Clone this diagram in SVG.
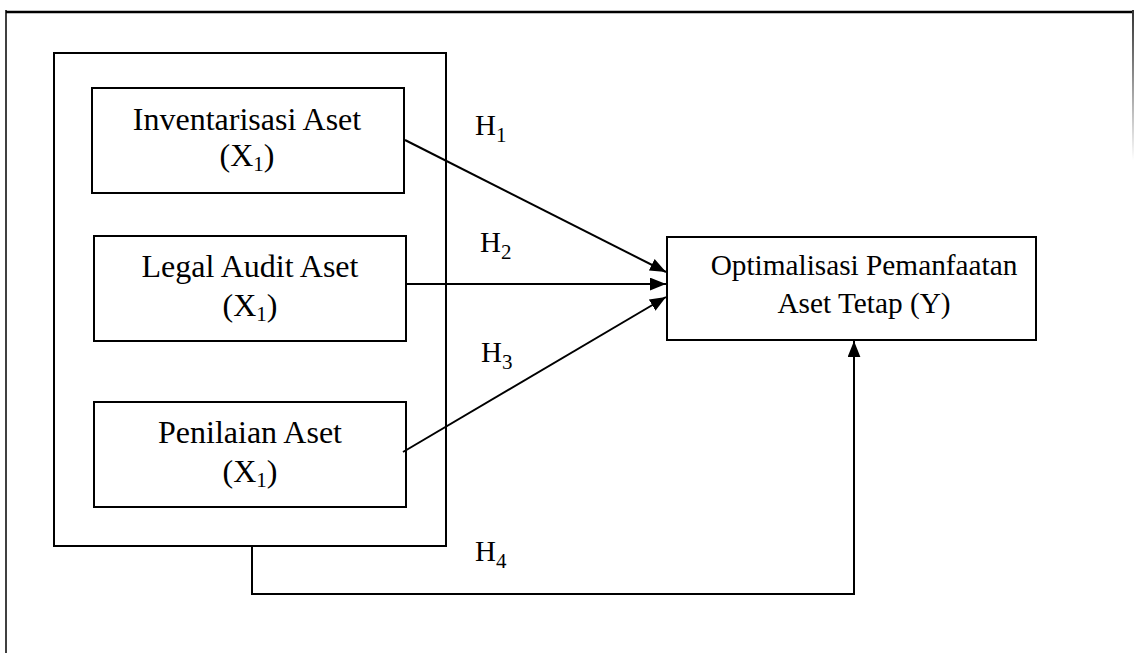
<svg xmlns="http://www.w3.org/2000/svg" width="1134" height="653" viewBox="0 0 1134 653">
<style>
.box{fill:#fff;stroke:#000;stroke-width:2}
.t{font-family:"Liberation Serif","Times New Roman",serif;font-size:32px;fill:#000;text-anchor:middle}
.ty{font-family:"Liberation Serif","Times New Roman",serif;font-size:29.3px;fill:#000;text-anchor:middle}
.h{font-family:"Liberation Serif","Times New Roman",serif;font-size:29px;fill:#000}
.sub{font-size:21px}
.ln{fill:none;stroke:#000;stroke-width:2}
</style>
<defs>
<marker id="arr" viewBox="0 0 10 8" refX="10" refY="4" markerWidth="8" markerHeight="6.5" markerUnits="strokeWidth" orient="auto">
<path d="M0,0 L10,4 L0,8 Z" fill="#000"/>
</marker>
<linearGradient id="fade" x1="0" y1="0" x2="0" y2="1">
<stop offset="0" stop-color="#333"/>
<stop offset="1" stop-color="#fff"/>
</linearGradient>
</defs>
<g id="frame">
<line x1="6" y1="12" x2="1134" y2="12" stroke="#000" stroke-width="2.5"/>
<line x1="6" y1="10" x2="6" y2="653" stroke="#000" stroke-width="1.5"/>
<rect x="1132" y="10" width="2" height="150" fill="url(#fade)"/>
</g>
<g id="group">
<rect class="box" x="54" y="53" width="392" height="493"/>
</g>
<g id="x1">
<rect class="box" x="92" y="88" width="312" height="105"/>
<text class="t" x="247" y="130">Inventarisasi Aset</text>
<text class="t" x="247" y="166">(X<tspan class="sub" dy="5">1</tspan><tspan dy="-5">)</tspan></text>
</g>
<g id="x2">
<rect class="box" x="94" y="236" width="312" height="105"/>
<text class="t" x="250" y="277">Legal Audit Aset</text>
<text class="t" x="250" y="316">(X<tspan class="sub" dy="5">1</tspan><tspan dy="-5">)</tspan></text>
</g>
<g id="x3">
<rect class="box" x="94" y="402" width="312" height="105"/>
<text class="t" x="250" y="443">Penilaian Aset</text>
<text class="t" x="250" y="482">(X<tspan class="sub" dy="5">1</tspan><tspan dy="-5">)</tspan></text>
</g>
<g id="y">
<rect class="box" x="667" y="237" width="369" height="103"/>
<text class="ty" x="864" y="275">Optimalisasi Pemanfaatan</text>
<text class="ty" x="864" y="313">Aset Tetap (Y)</text>
</g>
<g id="connectors">
<line class="ln" x1="405" y1="140" x2="666" y2="272" marker-end="url(#arr)"/>
<line class="ln" x1="405" y1="284" x2="666" y2="284" marker-end="url(#arr)"/>
<line class="ln" x1="403" y1="452" x2="666" y2="297" marker-end="url(#arr)"/>
<polyline class="ln" points="252,546 252,594 854,594 854,341" marker-end="url(#arr)"/>
</g>
<g id="labels">
<text class="h" x="475" y="135">H<tspan class="sub" dy="7">1</tspan></text>
<text class="h" x="480" y="252">H<tspan class="sub" dy="7">2</tspan></text>
<text class="h" x="481" y="362">H<tspan class="sub" dy="7">3</tspan></text>
<text class="h" x="475" y="561">H<tspan class="sub" dy="7">4</tspan></text>
</g>
</svg>
